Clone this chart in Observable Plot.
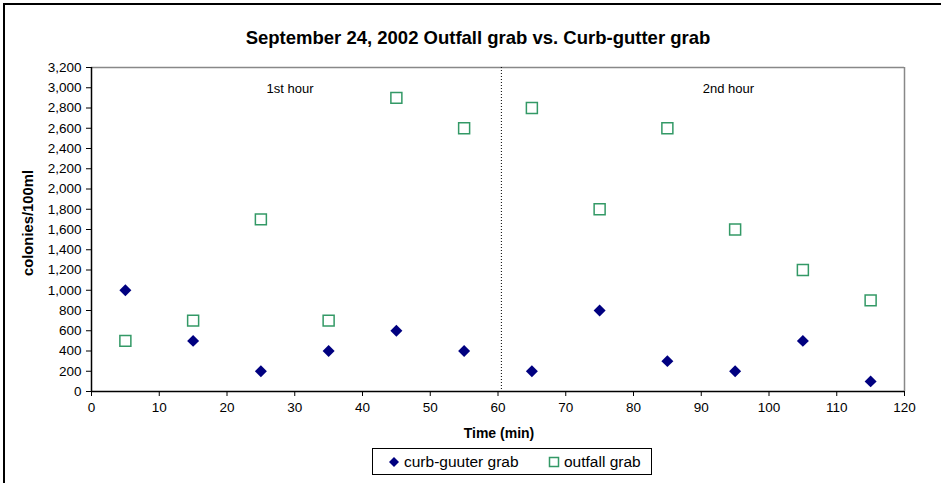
<!DOCTYPE html>
<html>
<head>
<meta charset="utf-8">
<script src="https://cdn.jsdelivr.net/npm/d3@7"></script>
<script src="https://cdn.jsdelivr.net/npm/@observablehq/plot@0.6"></script>
<style>
  body { margin: 0; background: #fff; font-family: "Liberation Sans", Arial, sans-serif; }
  #wrap { position: relative; width: 941px; height: 483px; overflow: hidden; }
  #frame { position: absolute; left: 3px; top: 3px; width: 960px; height: 520px; border: 2px solid #000; box-sizing: border-box; }
  #chart { position: absolute; left: 0; top: 0; }
  #title { position: absolute; left: 0; width: 956px; top: 29px; line-height: 1; text-align: center; font-weight: bold; font-size: 18.5px; color: #000; white-space: nowrap; }
  #ylabel { position: absolute; left: 28px; top: 223px; transform: translate(-50%, -50%) rotate(-90deg); font-weight: bold; font-size: 14.8px; line-height: 1; white-space: nowrap; }
  #xlabel { position: absolute; left: 499px; top: 433px; transform: translate(-50%, -50%); font-weight: bold; font-size: 14px; line-height: 1; white-space: nowrap; }
  #legend { position: absolute; left: 372px; top: 448px; width: 280px; height: 27px; border: 1px solid #000; box-sizing: border-box; font-size: 15.5px; }
  .item { position: absolute; top: 0; height: 25px; white-space: nowrap; display: flex; align-items: center; }
  .item svg { margin-right: 4px; }
</style>
</head>
<body>
<div id="wrap">
  <div id="frame"></div>
  <div id="chart"></div>
  <div id="title">September 24, 2002 Outfall grab vs. Curb-gutter grab</div>
  <div id="ylabel">colonies/100ml</div>
  <div id="xlabel">Time (min)</div>
  <div id="legend">
    <div class="item" style="left:15px;"><svg width="12" height="12"><path d="M6,1L11,6L6,11L1,6Z" fill="#000080"/></svg>curb-guuter grab</div>
    <div class="item" style="left:175px;"><svg width="12" height="12"><rect x="1.5" y="1.5" width="9" height="9" fill="none" stroke="#339966" stroke-width="1.5"/></svg>outfall grab</div>
  </div>
</div>
<script>
const times = [5, 15, 25, 35, 45, 55, 65, 75, 85, 95, 105, 115];
const curbGutter = [1000, 500, 200, 400, 600, 400, 200, 800, 300, 200, 500, 100];
const outfall = [500, 700, 1700, 700, 2900, 2600, 2800, 1800, 2600, 1600, 1200, 900];
const xTicks = [0, 10, 20, 30, 40, 50, 60, 70, 80, 90, 100, 110, 120];
const yTicks = [0, 200, 400, 600, 800, 1000, 1200, 1400, 1600, 1800, 2000, 2200, 2400, 2600, 2800, 3000, 3200];
const hourDivider = [60.5];
const annotations = [
  {x: 29.3, y: 2990, label: "1st hour"},
  {x: 94, y: 2990, label: "2nd hour"}
];

const curbData = times.map((t, i) => ({t, v: curbGutter[i]}));
const outfallData = times.map((t, i) => ({t, v: outfall[i]}));

const chart = Plot.plot({
  width: 941,
  height: 483,
  marginLeft: 91,
  marginRight: 37,
  marginTop: 67,
  marginBottom: 92,
  style: {fontFamily: "'Liberation Sans', Arial, sans-serif", fontSize: "13.5px", background: "transparent", color: "#000", overflow: "visible"},
  x: {domain: [0, 120]},
  y: {domain: [0, 3200]},
  marks: [
    Plot.ruleY([3200], {stroke: "#888", strokeWidth: 1.5}),
    Plot.ruleX([120], {stroke: "#888", strokeWidth: 1.5}),
    Plot.ruleX(hourDivider, {stroke: "#000", strokeDasharray: "1,2", strokeWidth: 1}),
    Plot.text(annotations, {x: "x", y: "y", text: "label", fontSize: 13, fill: "#000"}),
    Plot.dot(outfallData, {x: "t", y: "v", symbol: "square", r: 6.2, stroke: "#339966", strokeWidth: 1.5, fill: "none"}),
    Plot.dot(curbData, {x: "t", y: "v", symbol: "diamond2", r: 5.4, fill: "#000080", stroke: "none"}),
    Plot.axisY({ticks: yTicks, tickFormat: d3.format(","), tickSize: 5, tickPadding: 5, label: null, stroke: "#000", strokeOpacity: 1}),
    Plot.axisX({ticks: xTicks, tickFormat: d => d, tickSize: 5, tickPadding: 6, label: null, stroke: "#000", strokeOpacity: 1}),
    Plot.ruleY([0], {stroke: "#000", strokeWidth: 1.5}),
    Plot.ruleX([0], {stroke: "#000", strokeWidth: 1.5})
  ]
});
document.getElementById("chart").appendChild(chart);
</script>
</body>
</html>
